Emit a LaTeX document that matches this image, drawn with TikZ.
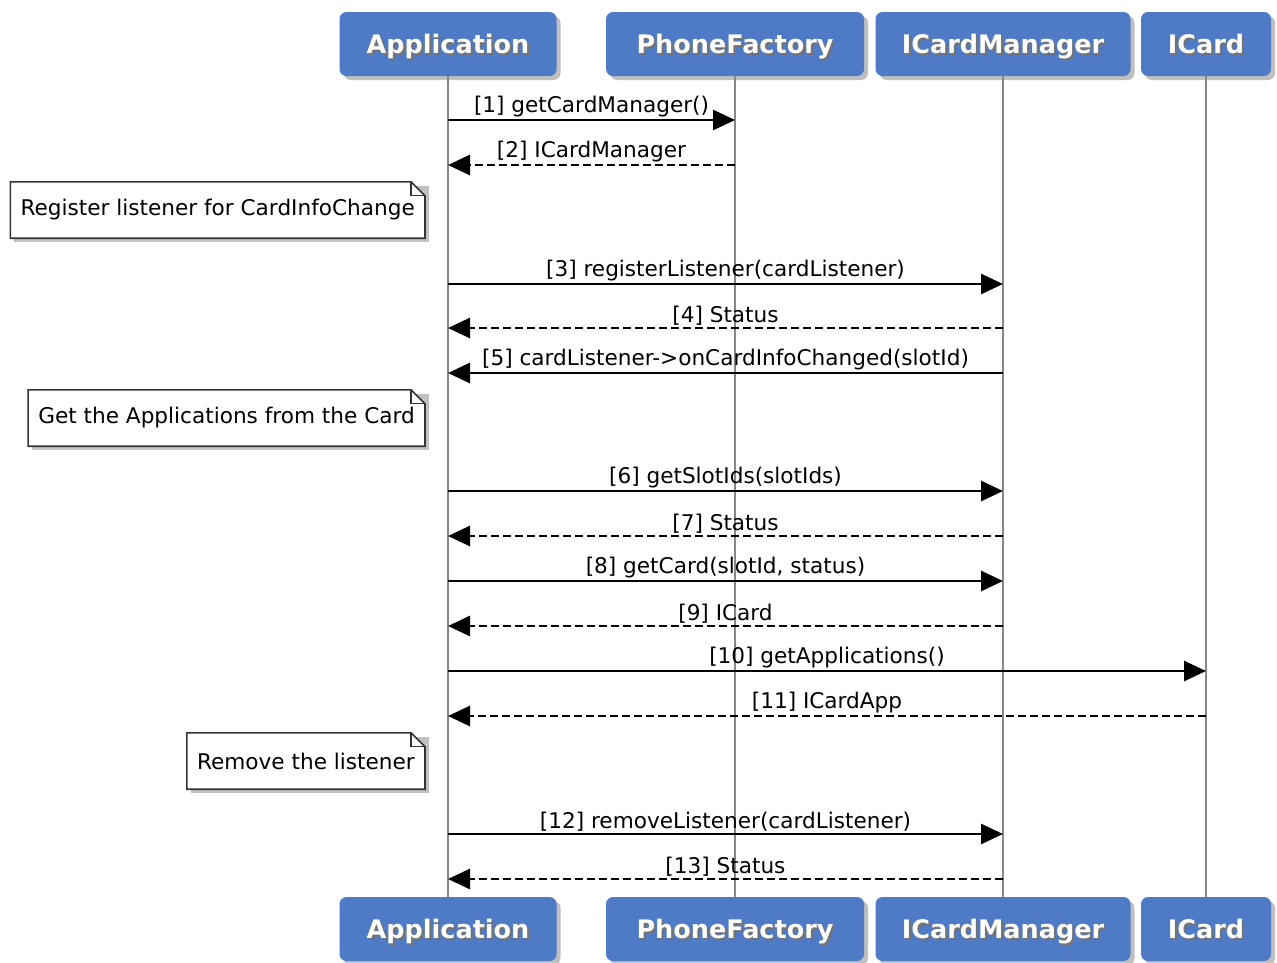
\documentclass[tikz,border=0pt]{standalone}
\usepackage{fontspec}
\setmainfont{DejaVu Sans}
\usepackage{xcolor}
\usepackage{tikz}
\usetikzlibrary{backgrounds}
\usetikzlibrary{shadows}
\usetikzlibrary{arrows.meta}
\definecolor{actorblue}{RGB}{79,122,198}
\definecolor{lifegray}{RGB}{135,135,135}
\tikzstyle{actor} = [rectangle, rounded corners=7pt, fill=actorblue, minimum height=64pt, inner sep=0pt, text height=18.5pt, text depth=0pt, font=\fontsize{25.5}{30}\selectfont\bfseries, drop shadow={shadow xshift=4pt, shadow yshift=-4pt, opacity=0.5}]
\tikzstyle{lifeline} = [draw, lifegray, line width=2.2pt]
\tikzstyle{call} = [draw, line width=2.8pt, -{Triangle[length=22pt, width=20pt]}]
\tikzstyle{reply} = [call, dash pattern=on 8pt off 4pt]
\tikzstyle{msg} = [above, inner sep=1.5pt, font=\fontsize{21.6}{26}\selectfont]
\tikzstyle{note} = [anchor=east, minimum height=56pt, inner xsep=10pt, font=\fontsize{21.6}{26}\selectfont]
\tikzstyle{noteline} = [draw, black!80, line width=1.6pt, fill=white]
\newcommand{\actorname}[1]{\rlap{\hspace{2pt}\raisebox{-2pt}{\textcolor{black!55}{#1}}}\textcolor{white}{#1}}

\begin{document}
\begin{tikzpicture}[x=1pt, y=-1pt]
\useasboundingbox (0,0) rectangle (1277,962);

%% participants, top and bottom
\node[actor, minimum width=217pt] at (448, 44) (app-top) {\actorname{Application}};
\node[actor, minimum width=258pt] at (735, 44) (pf-top) {\actorname{PhoneFactory}};
\node[actor, minimum width=255pt] at (1003, 44) (icm-top) {\actorname{ICardManager}};
\node[actor, minimum width=130pt] at (1206, 44) (ic-top) {\actorname{ICard}};

\node[actor, minimum width=217pt] at (448, 929) (app-bot) {\actorname{Application}};
\node[actor, minimum width=258pt] at (735, 929) (pf-bot) {\actorname{PhoneFactory}};
\node[actor, minimum width=255pt] at (1003, 929) (icm-bot) {\actorname{ICardManager}};
\node[actor, minimum width=130pt] at (1206, 929) (ic-bot) {\actorname{ICard}};

\foreach \n in {app, pf, icm, ic}
  \path[lifeline] (\n-top.south) -- (\n-bot.north);

%% messages
\foreach \y/\from/\to/\kind/\txt in {
  120/app/pf/call/{[1] getCardManager()},
  165/pf/app/reply/{[2] ICardManager},
  284/app/icm/call/{[3] registerListener(cardListener)},
  328/icm/app/reply/{[4] Status},
  373/icm/app/call/{[5] cardListener->onCardInfoChanged(slotId)},
  491/app/icm/call/{[6] getSlotIds(slotIds)},
  536/icm/app/reply/{[7] Status},
  581/app/icm/call/{[8] getCard(slotId, status)},
  626/icm/app/reply/{[9] ICard},
  671/app/ic/call/{[10] getApplications()},
  716/ic/app/reply/{[11] ICardApp},
  834/app/icm/call/{[12] removeListener(cardListener)},
  879/icm/app/reply/{[13] Status}}
  \path[\kind] (\from-top |- 0,\y) -- node[msg] {\txt} (\to-top |- 0,\y);

%% notes
\node[note] at (425, 210) (regNote) {Register listener for CardInfoChange};
\node[note] at (425, 418) (cardNote) {Get the Applications from the Card};
\node[note] at (425, 761) (removeNote) {Remove the listener};

\begin{pgfonlayer}{background}
\fill[white] (0,0) rectangle (1277,962);
\foreach \n in {regNote, cardNote, removeNote} {
  \fill[black!40, opacity=0.6] ([xshift=4pt, yshift=-4pt]\n.north west) rectangle ([xshift=4pt, yshift=-4pt]\n.south east);
  \path[noteline] (\n.north west) -- ([xshift=-14pt]\n.north east) -- ([yshift=-14pt]\n.north east) -- (\n.south east) -- (\n.south west) -- cycle;
  \draw[black!80, line width=1.2pt] ([xshift=-14pt]\n.north east) |- ([yshift=-14pt]\n.north east);
}
\end{pgfonlayer}

\end{tikzpicture}
\end{document}
